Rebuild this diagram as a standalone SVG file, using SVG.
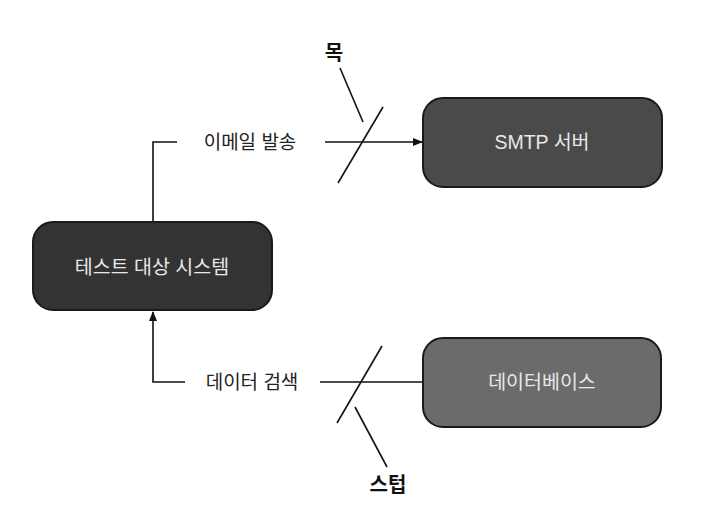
<svg xmlns="http://www.w3.org/2000/svg" width="722" height="514" viewBox="0 0 722 514">
<defs>
<marker id="arr" markerWidth="10" markerHeight="8" refX="9" refY="4" orient="auto" markerUnits="userSpaceOnUse">
<path d="M0,0 L10,4 L0,8 Z" fill="#111"/>
</marker>
<style>
.box{stroke:#1a1a1a;stroke-width:2}
.nt{font-family:"Liberation Sans","Noto Sans CJK KR",sans-serif;font-size:19.5px;fill:#e8e8e8;text-anchor:middle;dominant-baseline:central}
.lbl{font-family:"Liberation Sans","Noto Sans CJK KR",sans-serif;font-size:19px;fill:#222;text-anchor:middle;dominant-baseline:central}
.bold{font-family:"Noto Sans CJK KR",sans-serif;font-size:20px;font-weight:bold;fill:#111;text-anchor:middle;dominant-baseline:central}
.ln{stroke:#111;stroke-width:1.6;fill:none}
</style>
</defs>
<rect width="722" height="514" fill="#fff"/>
<g id="connectors">
<polyline class="ln" points="153,222 153,142 177,142"/>
<line class="ln" x1="325" y1="142" x2="422" y2="142" marker-end="url(#arr)"/>
<line class="ln" x1="338" y1="183" x2="383" y2="107"/>
<line class="ln" x1="340" y1="68" x2="363" y2="122"/>
<polyline class="ln" points="185,382 153,382 153,312" marker-end="url(#arr)"/>
<line class="ln" x1="320" y1="382" x2="423" y2="382"/>
<line class="ln" x1="337" y1="423" x2="382" y2="346"/>
<line class="ln" x1="355" y1="407" x2="387" y2="467"/>
<text class="lbl" x="250" y="142">이메일 발송</text>
<text class="lbl" x="252" y="382">데이터 검색</text>
<text class="bold" x="334" y="51">목</text>
<text class="bold" x="388" y="483">스텁</text>
</g>
<g id="smtp">
<rect class="box" x="423" y="98" width="239" height="89" rx="20" fill="#4a4a4a"/>
<text class="nt" x="542" y="142">SMTP 서버</text>
</g>
<g id="sut">
<rect class="box" x="33" y="222" width="239" height="88" rx="20" fill="#333"/>
<text class="nt" x="152" y="267">테스트 대상 시스템</text>
</g>
<g id="db">
<rect class="box" x="423" y="338" width="238" height="89" rx="20" fill="#6b6b6b"/>
<text class="nt" x="542" y="382">데이터베이스</text>
</g>
</svg>
